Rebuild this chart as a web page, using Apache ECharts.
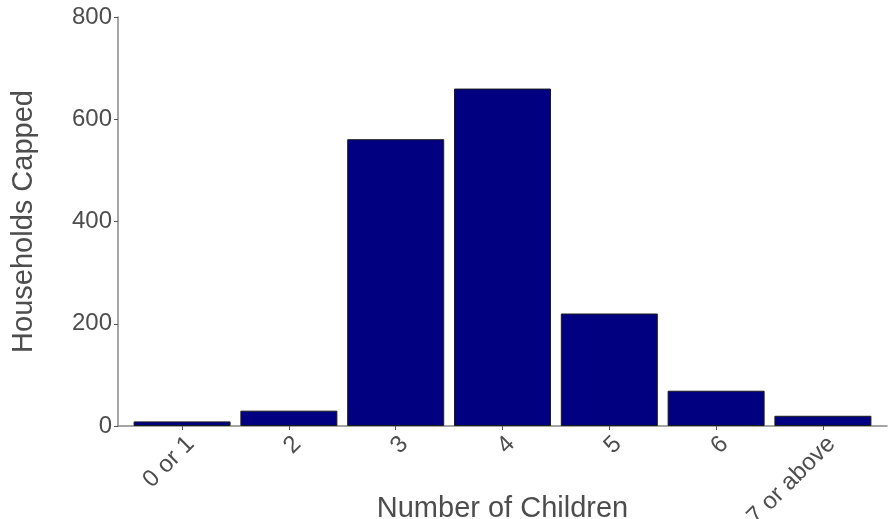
<!DOCTYPE html>
<html>
<head>
<meta charset="utf-8">
<script src="https://cdn.jsdelivr.net/npm/echarts@6/dist/echarts.min.js"></script>
<style>
html, body { margin: 0; padding: 0; background: #fff; }
#chart { width: 888px; height: 519px; }
</style>
</head>
<body>
<div id="chart"></div>
<script>
var categories = ['0 or 1', '2', '3', '4', '5', '6', '7 or above'];
var households = [9, 30, 561, 660, 220, 69, 20];
var positions = categories.map(function (c, i) { return i; });

var myChart = echarts.init(document.getElementById('chart'));
var textColor = '#4d4d4d';
var font = 'Liberation Sans';

var option = {
    animation: false,
    grid: { left: 118, right: 1, top: 17, bottom: 93, outerBoundsMode: 'none', containLabel: false },
    xAxis: {
        type: 'value',
        min: -0.6,
        max: 6.6,
        name: 'Number of Children',
        nameLocation: 'middle',
        nameGap: 68,
        nameMoveOverlap: false,
        nameTextStyle: { color: textColor, fontSize: 29, fontFamily: font },
        axisLine: { show: true, onZero: false, lineStyle: { color: '#888', width: 1.5 } },
        axisTick: { show: true, customValues: positions, length: 4, lineStyle: { color: '#555' } },
        axisLabel: {
            customValues: positions,
            rotate: 45, color: textColor, fontSize: 24, fontFamily: font, margin: 6,
            align: 'right', verticalAlign: 'top',
            formatter: function (v) { return categories[Math.round(v)]; }
        },
        splitLine: { show: false }
    },
    yAxis: {
        type: 'value',
        min: 0,
        max: 800,
        interval: 200,
        name: 'Households Capped',
        nameLocation: 'middle',
        nameGap: 80,
        nameMoveOverlap: false,
        nameTextStyle: { color: textColor, fontSize: 29, fontFamily: font },
        axisLine: { show: true, onZero: false, lineStyle: { color: '#888', width: 1.5 } },
        axisTick: { show: true, length: 4, lineStyle: { color: '#555' } },
        axisLabel: { color: textColor, fontSize: 24, fontFamily: font, margin: 6 },
        splitLine: { show: false }
    },
    series: [
        {
            name: 'Households Capped',
            type: 'bar',
            data: households.map(function (v, i) { return [positions[i], v]; }),
            barWidth: 97,
            itemStyle: { color: '#000080', borderColor: '#1a1a1a', borderWidth: 1 }
        }
    ]
};
myChart.setOption(option);
</script>
</body>
</html>
